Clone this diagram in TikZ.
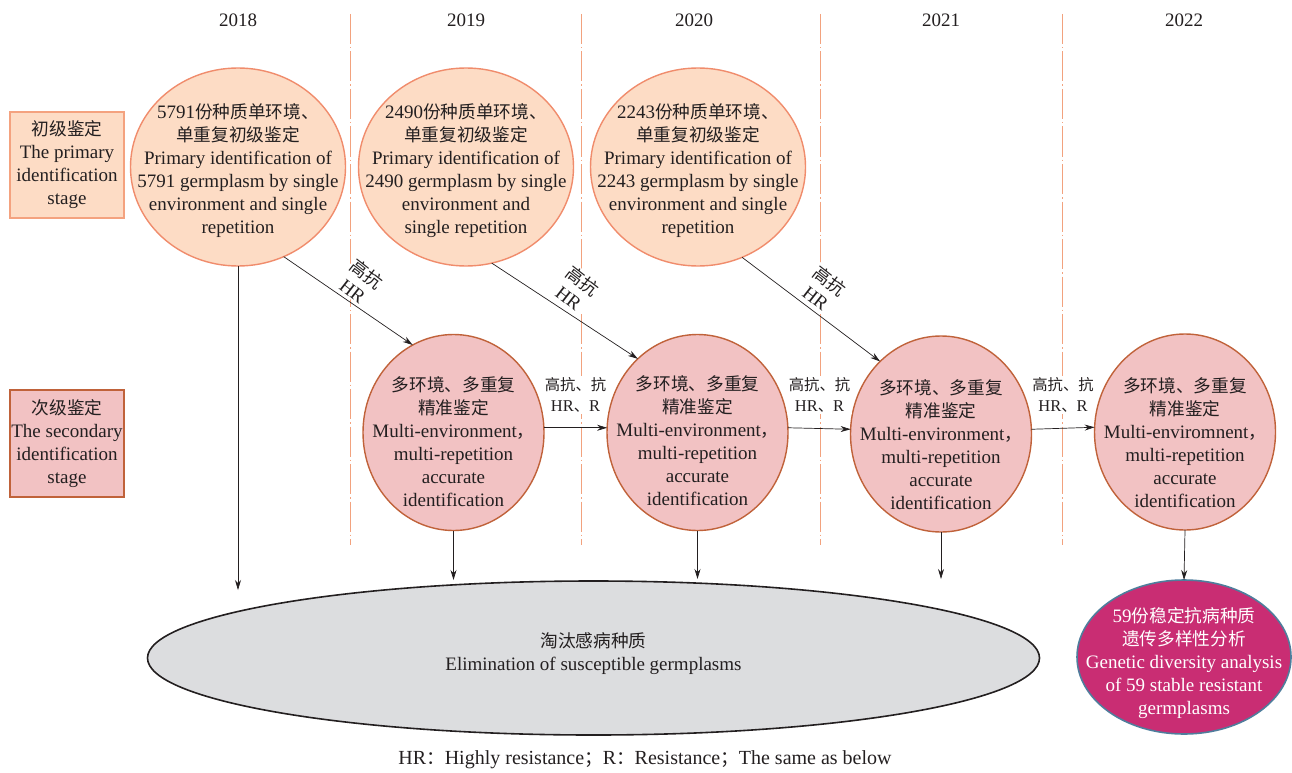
\documentclass[tikz,border=0pt]{standalone}
\usepackage{fontspec}
\setmainfont{Liberation Serif}
\newfontfamily\cjk[Scale=0.93]{Noto Sans CJK SC}
\newcommand{\zh}[1]{{\cjk #1}}
\usetikzlibrary{arrows.meta,shapes.geometric,calc}
\definecolor{ink}{HTML}{231F20}
\definecolor{primfill}{HTML}{FDDCC5}
\definecolor{primline}{HTML}{F08C6C}
\definecolor{boxline}{HTML}{F4A27F}
\definecolor{secfill}{HTML}{F2C2C3}
\definecolor{secline}{HTML}{C0623A}
\definecolor{greyfill}{HTML}{DCDDDF}
\definecolor{finfill}{HTML}{C92D73}
\definecolor{finline}{HTML}{4F7D9C}
\definecolor{dashc}{HTML}{F2A27E}
\begin{document}
\begin{tikzpicture}[x=1pt,y=-1pt,
  txt/.style={font=\fontsize{19}{23}\selectfont, align=center, text=ink, inner sep=0pt},
  yeartxt/.style={font=\fontsize{19}{23}\selectfont, text=ink, inner sep=0pt},
  stagebox/.style={draw, line width=1.5pt, minimum width=114pt, minimum height=106pt, inner sep=0pt, outer sep=0pt, align=center, text=ink, font=\fontsize{19}{23}\selectfont},
  prim/.style={ellipse, draw=primline, fill=primfill, line width=1.4pt, minimum width=215pt, minimum height=198pt, inner sep=0pt, outer sep=0pt},
  sec/.style={ellipse, draw=secline, fill=secfill, line width=1.4pt, minimum width=181pt, minimum height=196pt, inner sep=0pt, outer sep=0pt},
  yearline/.style={draw=dashc, line width=1pt, dash pattern=on 30pt off 3pt on 1.5pt off 3pt},
  arr/.style={-{Stealth[length=10pt,width=6pt]}, line width=0.7pt, draw=ink},
  hlbl/.style={font=\fontsize{16.5}{21}\selectfont, align=center, fill=white, inner sep=1.5pt, text=ink},
  dlbl/.style={font=\fontsize{19}{22}\selectfont, align=center, fill=white, inner sep=1pt, text=ink, rotate=-38}
]
\useasboundingbox (0,0) rectangle (1292,773);

% year separators
\draw[yearline] (350,14) -- (350,545);
\draw[yearline] (581,14) -- (581,545);
\draw[yearline] (820,14) -- (820,545);
\draw[yearline] (1062,14) -- (1062,545);

% years
\node[yeartxt] (y2018) at (238,20) {2018};
\node[yeartxt] (y2019) at (466,20) {2019};
\node[yeartxt] (y2020) at (694,20) {2020};
\node[yeartxt] (y2021) at (941,20) {2021};
\node[yeartxt] (y2022) at (1184,20) {2022};

% stage boxes
\node[stagebox, draw=boxline, fill=primfill] (B1) at (67,165) {\zh{初级鉴定}\\The primary\\identification\\stage};
\node[stagebox, draw=secline, fill=secfill, minimum height=107pt] (B2) at (67,443.5) {\zh{次级鉴定}\\The secondary\\identification\\stage};

% primary ellipses
\node[prim] (E1) at (238,167) {};
\node[prim] (E2) at (466,167) {};
\node[prim] (E3) at (698,167) {};
\node[txt] (T1) at (238,170.5) {5791\zh{份种质单环境、}\\\zh{单重复初级鉴定}\\Primary identification of\\5791 germplasm by single\\environment and single\\repetition};
\node[txt] (T2) at (466,170.5) {2490\zh{份种质单环境、}\\\zh{单重复初级鉴定}\\Primary identification of\\2490 germplasm by single\\environment and\\single repetition};
\node[txt] (T3) at (698,170.5) {2243\zh{份种质单环境、}\\\zh{单重复初级鉴定}\\Primary identification of\\2243 germplasm by single\\environment and single\\repetition};

% secondary ellipses
\node[sec] (S1) at (453.5,432.5) {};
\node[sec] (S2) at (697.5,432.5) {};
\node[sec] (S3) at (941,434) {};
\node[sec] (S4) at (1185,432) {};
\node[txt] (U1) at (453.5,442) {\zh{多环境、多重复}\\\zh{精准鉴定}\\Multi-environment\zh{，}\\multi-repetition\\accurate\\identification};
\node[txt] (U2) at (697.5,441) {\zh{多环境、多重复}\\\zh{精准鉴定}\\Multi-environment\zh{，}\\multi-repetition\\accurate\\identification};
\node[txt] (U3) at (941,445) {\zh{多环境、多重复}\\\zh{精准鉴定}\\Multi-environment\zh{，}\\multi-repetition\\accurate\\identification};
\node[txt] (U4) at (1185,442.5) {\zh{多环境、多重复}\\\zh{精准鉴定}\\Multi-enviromnent\zh{，}\\multi-repetition\\accurate\\identification};

% elimination ellipse
\node[ellipse, draw=ink, fill=greyfill, line width=1.6pt, minimum width=892pt, minimum height=154pt, inner sep=0pt, outer sep=0pt] (G) at (593.5,658) {};
\node[txt] (GT) at (593.5,654) {\zh{淘汰感病种质}\\Elimination of susceptible germplasms};

% final ellipse
\node[ellipse, draw=finline, fill=finfill, line width=1.6pt, minimum width=214pt, minimum height=154pt, inner sep=0pt, outer sep=0pt] (F) at (1184,657) {};
\node[txt, text=white] (FT) at (1184,663.5) {59\zh{份稳定抗病种质}\\\zh{遗传多样性分析}\\Genetic diversity analysis\\of 59 stable resistant\\germplasms};

% diagonal arrows
\draw[arr] (E1.-63) -- (S1.115);
\draw[arr] (E2.-75) -- (S2.129);
\draw[arr] (E3.-64) -- (S3.130);
\node[dlbl] (a1) at (360,282) {\zh{高抗}\\HR};
\node[dlbl] (a2) at (576,289) {\zh{高抗}\\HR};
\node[dlbl] (a3) at (823,289) {\zh{高抗}\\HR};

% horizontal arrows
\draw[arr] (S1.3) -- (S2.177);
\draw[arr] (S2.3) -- (S3.177);
\draw[arr] (S3.3) -- (S4.177);
\node[hlbl] (h1) at (575.5,395) {\zh{高抗、抗}\\HR\zh{、}R};
\node[hlbl] (h2) at (819.5,395) {\zh{高抗、抗}\\HR\zh{、}R};
\node[hlbl] (h3) at (1063,395) {\zh{高抗、抗}\\HR\zh{、}R};

% down arrows
\coordinate (d1) at (238,590);
\coordinate (d2) at (453.5,580);
\coordinate (d3) at (697.5,579);
\coordinate (d4) at (941,579);
\draw[arr] (E1.south) -- (d1);
\draw[arr] (S1.south) -- (d2);
\draw[arr] (S2.south) -- (d3);
\draw[arr] (S3.south) -- (d4);
\draw[arr] (S4.south) -- (F.north);

% note
\node[txt, font=\fontsize{20}{24}\selectfont] (note) at (645,760) {HR\zh{：}Highly resistance\zh{；}R\zh{：}Resistance\zh{；}The same as below};
\end{tikzpicture}
\end{document}
